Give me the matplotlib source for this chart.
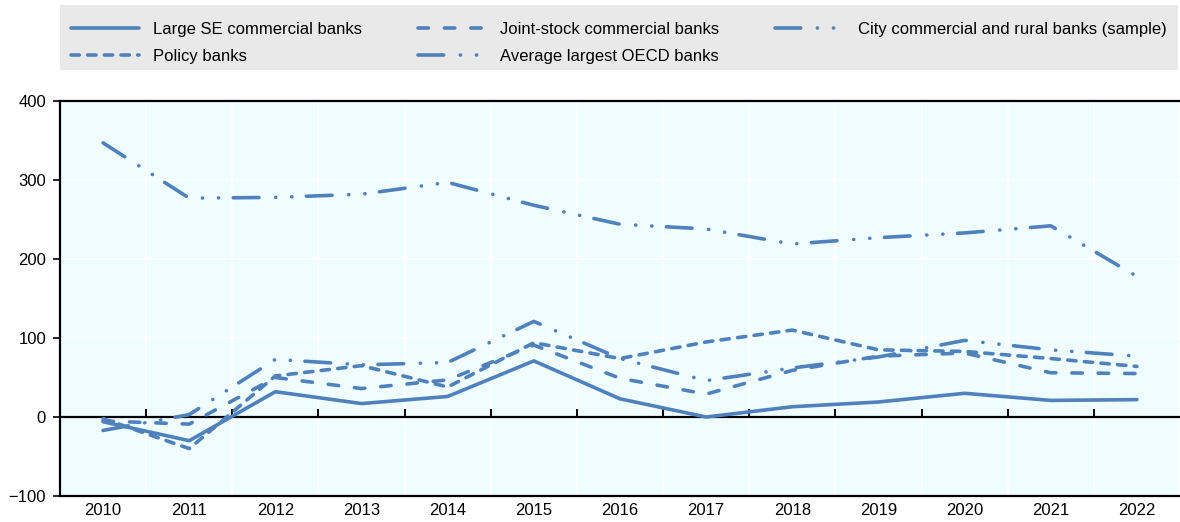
import matplotlib
matplotlib.use("Agg")
import matplotlib.pyplot as plt
from matplotlib.patches import Rectangle
import numpy as np

plt.rcParams['font.family'] = ['Liberation Sans', 'DejaVu Sans']
plt.rcParams['lines.scale_dashes'] = False
fs = 12

years = ["2010", "2011", "2012", "2013", "2014", "2015", "2016",
         "2017", "2018", "2019", "2020", "2021", "2022"]

large_se = [-6, -30, 32, 17, 26, 71, 23, 0, 13, 19, 30, 21, 22]
joint_stock = [-5, -9, 50, 36, 47, 91, 49, 29, 59, 77, 81, 56, 55]
policy = [-2, -40, 52, 65, 38, 94, 74, 95, 110, 85, 83, 74, 64]
city_rural = [-17, 3, 73, 66, 69, 121, 74, 46, 62, 76, 97, 85, 77]
oecd = [347, 277, 278, 282, 297, 268, 244, 238, 219, 227, 233, 242, 178]

names = ["Large SE commercial banks", "Joint-stock commercial banks",
         "City commercial and rural banks (sample)", "Policy banks",
         "Average largest OECD banks"]

color = "#4f81bd"
lw = 2.6
dash_long = (0, (7.5, 11.5))
dash_short = (0, (6.0, 6.0))
dash_dd = (0, (18.5, 12.0, 0.1, 11.5, 0.1, 10.5))

fig = plt.figure(figsize=(11.8, 5.22), dpi=100)
ax = fig.add_axes([60/1180, 1 - 496/522, 1 - 60/1180, (496 - 101)/522])
ax.set_facecolor("#f0fdff")

x = np.arange(len(years))
common = dict(color=color, lw=lw, solid_capstyle='round', dash_capstyle='round',
              solid_joinstyle='round', dash_joinstyle='round', zorder=3)
h_large, = ax.plot(x, large_se, linestyle='-', label=names[0], **common)
h_joint, = ax.plot(x, joint_stock, linestyle=dash_long, label=names[1], **common)
h_city, = ax.plot(x, city_rural, linestyle=dash_dd, label=names[2], **common)
h_policy, = ax.plot(x, policy, linestyle=dash_short, label=names[3], **common)
h_oecd, = ax.plot(x, oecd, linestyle=dash_dd, label=names[4], **common)

ax.set_xlim(-0.5, len(years) - 0.5)
ax.set_ylim(-100, 400)
ax.set_yticks([-100, 0, 100, 200, 300, 400])
ax.set_xticks(x)
ax.set_xticklabels(years)
ax.set_xticks(np.arange(-0.5, len(years), 1.0), minor=True)

ax.grid(True, which='major', axis='y', color='white', lw=1.3, zorder=1)
ax.grid(True, which='minor', axis='x', color='white', lw=1.3, zorder=1)
ax.tick_params(axis='x', which='both', length=0, pad=5, labelsize=fs)
ax.tick_params(axis='y', length=5, width=1.2, pad=5, labelsize=fs, color='black')

for s in ['left', 'top', 'bottom']:
    ax.spines[s].set_color('black')
    ax.spines[s].set_linewidth(1.6)
ax.spines['right'].set_visible(False)

ax.axhline(0, color='black', lw=1.6, zorder=2)
ax.vlines(np.arange(0.5, len(years) - 0.5, 1.0), 0, 10, color='black', lw=1.4, zorder=2)

# legend background
fig.patches.append(Rectangle((60/1180, 1 - 70/522), (1178 - 60)/1180, 65/522,
                             transform=fig.transFigure, facecolor='#e9e9e9',
                             edgecolor='none', zorder=0))
leg = fig.legend([h_large, h_policy, h_joint, h_oecd, h_city],
                 [names[0], names[3], names[1], names[4], names[2]],
                 ncol=3, loc='upper left', bbox_to_anchor=(71/1180, 1 - 22/522),
                 frameon=False, fontsize=fs, handlelength=4.1, handletextpad=0.84,
                 columnspacing=3.35, borderpad=0, borderaxespad=0, labelspacing=0.7)

fig.savefig("out.png", dpi=100)
